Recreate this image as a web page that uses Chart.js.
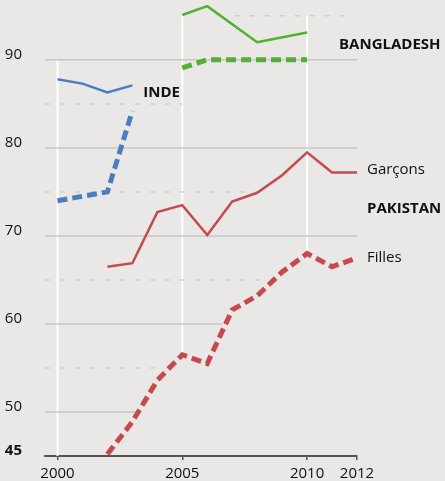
<!DOCTYPE html>
<html>
<head>
<meta charset="utf-8">
<script src="https://cdn.jsdelivr.net/npm/chart.js@4.4.0/dist/chart.umd.min.js"></script>
<style>
  html, body { margin: 0; padding: 0; background: #eae8e6; }
  #wrap { width: 445px; height: 481px; }
</style>
</head>
<body>
<div id="wrap"><canvas id="chart" width="445" height="481"></canvas></div>
<script>
// data
const years = [2000, 2001, 2002, 2003, 2004, 2005, 2006, 2007, 2008, 2009, 2010, 2011, 2012];
const indeBoys  = [87.8, 87.3, 86.3, 87.1, null, null, null, null, null, null, null, null, null];
const indeGirls = [74.0, null, 75.0, 84.2, null, null, null, null, null, null, null, null, null];
const bangBoys  = [null, null, null, null, null, 95.1, 96.1, null, 92.0, null, 93.1, null, null];
const bangGirls = [null, null, null, null, null, 89.1, 90.0, 90.0, 90.0, 90.0, 90.0, null, null];
const pakBoys   = [null, null, 66.5, 66.9, 72.7, 73.5, 70.1, 73.9, 74.9, 76.9, 79.5, 77.2, 77.2];
const pakGirls  = [null, null, 45.2, 48.9, 53.6, 56.5, 55.5, 61.6, 63.2, 65.9, 68.0, 66.5, 67.5];

const xTicks = [2000, 2005, 2010, 2012];
const yTicks = [45, 50, 60, 70, 80, 90];

// reference lines: [value, from, to]
const solidGrid  = [[90, 1999.5, 2012], [80, 1999.5, 2012], [70, 1999.5, 2012], [60, 1999.5, 2006.6], [50, 1999.5, 2003.2]];
const dashedGrid = [[95, 2007.1, 2011.6], [85, 1999.5, 2005], [75, 1999.5, 2008], [65, 1999.5, 2008.2], [55, 1999.5, 2004]];
const yearLines  = [[2000, 90, 45], [2005, 95, 56.5], [2010, 95, 68]];

// series labels (data units)
const seriesLabels = [
  { text: 'INDE', x: 2003.44, y: 86.25, bold: true },
  { text: 'BANGLADESH', x: 2011.28, y: 91.7, bold: true },
  { text: 'Garçons', x: 2012.4, y: 77.5, bold: false },
  { text: 'PAKISTAN', x: 2012.4, y: 73.07, bold: true },
  { text: 'Filles', x: 2012.4, y: 67.5, bold: false }
];

const FONT = '"Open Sans", "Noto Sans", sans-serif';
const BLUE = '#4a7ec0', GREEN = '#52b032', RED = '#c64a4c';
const INK = '#111111';

const pts = arr => years.map((x, i) => ({ x, y: arr[i] }));

function solid(data, color) {
  return { data: pts(data), borderColor: color, borderWidth: 2.5, spanGaps: true, pointRadius: 0, tension: 0 };
}
function dashed(data, color) {
  return { data: pts(data), borderColor: color, borderWidth: 5, borderDash: [10, 5], spanGaps: true, pointRadius: 0, tension: 0 };
}

const noPad = s => { s.paddingTop = 0; s.paddingBottom = 0; s.paddingLeft = 0; s.paddingRight = 0; };

const refLines = {
  id: 'refLines',
  beforeDatasetsDraw(chart) {
    const { ctx, scales: { x, y } } = chart;
    ctx.save();
    // white year lines
    ctx.strokeStyle = '#ffffff';
    ctx.lineWidth = 2;
    yearLines.forEach(([yr, a, b]) => {
      ctx.beginPath();
      ctx.moveTo(x.getPixelForValue(yr), y.getPixelForValue(a));
      ctx.lineTo(x.getPixelForValue(yr), y.getPixelForValue(b));
      ctx.stroke();
    });
    ctx.strokeStyle = '#c8c8c8';
    ctx.lineWidth = 1.5;
    solidGrid.forEach(([v, a, b]) => {
      ctx.beginPath();
      ctx.moveTo(x.getPixelForValue(a), y.getPixelForValue(v));
      ctx.lineTo(x.getPixelForValue(b), y.getPixelForValue(v));
      ctx.stroke();
    });
    ctx.strokeStyle = '#d0d0d0';
    ctx.setLineDash([5, 10]);
    dashedGrid.forEach(([v, a, b]) => {
      ctx.beginPath();
      ctx.moveTo(x.getPixelForValue(a), y.getPixelForValue(v));
      ctx.lineTo(x.getPixelForValue(b), y.getPixelForValue(v));
      ctx.stroke();
    });
    ctx.restore();
  },
  afterDatasetsDraw(chart) {
    const { ctx, scales: { x, y } } = chart;
    ctx.save();
    ctx.fillStyle = INK;
    ctx.textBaseline = 'middle';
    ctx.textAlign = 'left';
    seriesLabels.forEach(l => {
      ctx.font = (l.bold ? 'bold ' : '') + '15px ' + FONT;
      ctx.fillText(l.text, x.getPixelForValue(l.x), y.getPixelForValue(l.y));
    });
    ctx.restore();
  }
};

new Chart(document.getElementById('chart'), {
  type: 'line',
  data: {
    datasets: [
      solid(indeBoys, BLUE), dashed(indeGirls, BLUE),
      solid(bangBoys, GREEN), dashed(bangGirls, GREEN),
      solid(pakBoys, RED), dashed(pakGirls, RED)
    ]
  },
  options: {
    responsive: false,
    animation: false,
    layout: { padding: { top: 0, right: 88, left: 0, bottom: 0 } },
    plugins: { legend: { display: false }, tooltip: { enabled: false } },
    scales: {
      x: {
        type: 'linear', min: 1999.5, max: 2012,
        afterBuildTicks: s => { s.ticks = xTicks.map(v => ({ value: v })); },
        afterFit: s => { s.height = 25; noPad(s); },
        grid: { drawOnChartArea: false, drawTicks: true, tickLength: 4, color: '#555', lineWidth: 1.5 },
        border: { color: '#555', width: 2 },
        ticks: { padding: 5, color: INK, font: { family: FONT, size: 15 }, maxRotation: 0, autoSkip: false, callback: v => String(v) }
      },
      y: {
        min: 45, max: 96.8,
        afterBuildTicks: s => { s.ticks = yTicks.map(v => ({ value: v })); },
        afterFit: s => { s.width = 45; noPad(s); },
        grid: { display: false },
        border: { display: false },
        ticks: {
          padding: 15, labelOffset: -5, color: INK,
          font: c => ({ family: FONT, size: 15, weight: c.tick && c.tick.value === 45 ? 'bold' : 'normal' }),
          callback: v => String(v)
        }
      }
    }
  },
  plugins: [refLines]
});
</script>
</body>
</html>
